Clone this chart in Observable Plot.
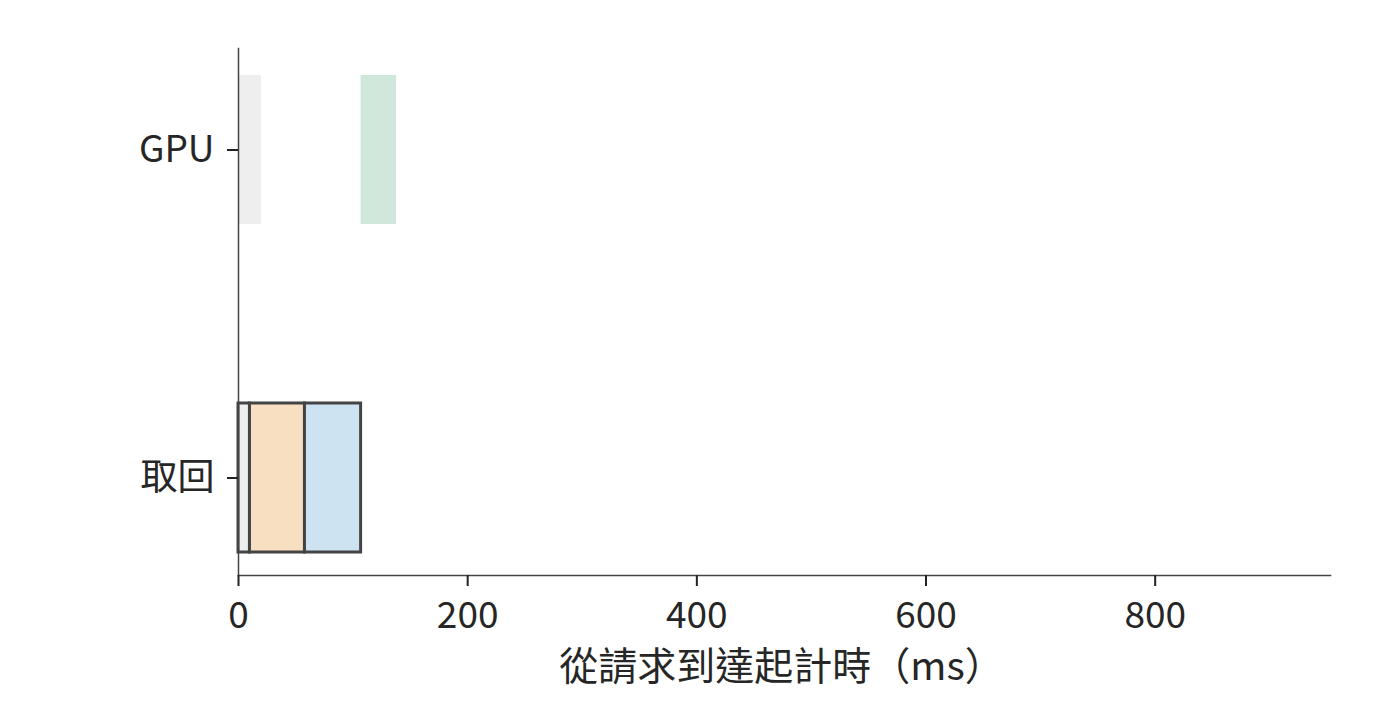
<!DOCTYPE html>
<html>
<head>
<meta charset="utf-8">
<script src="https://cdn.jsdelivr.net/npm/d3@7"></script>
<script src="https://cdn.jsdelivr.net/npm/@observablehq/plot@0.6"></script>
<style>
  html, body { margin: 0; padding: 0; background: #fff; }
  #chart svg { display: block; }
</style>
</head>
<body>
<div id="chart"></div>
<script>
// Categories (rows, top to bottom)
const rowNames = ["GPU", "取回"];
// Segments
const segRow   = ["GPU", "GPU", "取回", "取回", "取回"];
const segStage = ["閒置", "運算", "排隊", "準備", "執行"];
const segStart = [0, 107, 0, 10, 58];
const segEnd   = [20, 138, 10, 58, 107];
// Stage colours
const stageNames  = ["閒置", "運算", "排隊", "準備", "執行"];
const stageColors = ["#eeeeee", "#d0e8dc", "#eeeeee", "#f8dfc1", "#cde3f2"];
// Axis
const xTicks = [0, 200, 400, 600, 800];
const xMax = 953;
const xLabel = "從請求到達起計時（ms）";

const data = segRow.map((r, i) => ({row: r, stage: segStage[i], x1: segStart[i], x2: segEnd[i]}));

const font = "'Noto Sans CJK TC', 'Noto Sans', sans-serif";

const chart = Plot.plot({
  width: 1400,
  height: 720,
  marginLeft: 238,
  marginRight: 70,
  marginTop: 48,
  marginBottom: 145,
  style: {fontFamily: font, color: "#262626", background: "#fff", fontSize: "37px"},
  x: {domain: [0, xMax]},
  y: {domain: rowNames, paddingInner: 0.547, paddingOuter: 0.0745, align: 0.53},
  color: {domain: stageNames, range: stageColors},
  marks: [
    Plot.barX(data.filter(d => d.row === "GPU"), {x1: "x1", x2: "x2", y: "row", fill: "stage", inset: 0}),
    Plot.barX(data.filter(d => d.row !== "GPU"), {x1: "x1", x2: "x2", y: "row", fill: "stage", inset: 0, stroke: "#444", strokeWidth: 3}),
    Plot.frame({anchor: "left", stroke: "#444", strokeWidth: 1.5}),
    Plot.frame({anchor: "bottom", stroke: "#444", strokeWidth: 1.5}),
    Plot.axisY({tickSize: 11, tickPadding: 13, fontSize: 37, label: null, stroke: "#222", strokeWidth: 2}),
    Plot.axisX({ticks: xTicks, tickFormat: d => String(d), tickSize: 11, tickPadding: 15, fontSize: 37, stroke: "#222", strokeWidth: 2, label: null}),
    Plot.text([xLabel], {frameAnchor: "bottom", dy: 104, dx: -3, text: d => d, fontSize: 39, fill: "#262626"})
  ]
});
document.getElementById("chart").appendChild(chart);
</script>
</body>
</html>
